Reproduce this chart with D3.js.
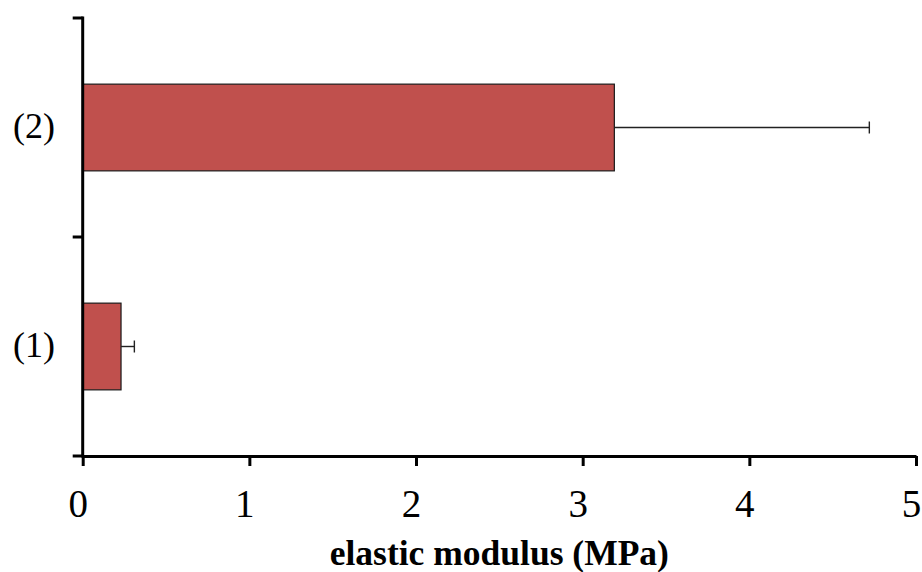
<!DOCTYPE html>
<html>
<head>
<meta charset="utf-8">
<script src="https://cdn.jsdelivr.net/npm/d3@7"></script>
<style>
  html, body { margin: 0; padding: 0; background: #fff; }
  svg { display: block; }
  text { font-family: "Liberation Serif", "Times New Roman", serif; fill: #000; }
</style>
</head>
<body>
<svg id="chart" width="922" height="572"></svg>
<script>
// Samples, mean elastic modulus (MPa) and standard deviation
const categories = ["(2)", "(1)"];
const modulus = [3.19, 0.23];
const modulusSD = [1.53, 0.08];
const xTicks = [0, 1, 2, 3, 4, 5];
const xTitle = "elastic modulus (MPa)";

const W = 922, H = 572;
const plot = { left: 82.7, right: 916, top: 18, bottom: 456 };

const svg = d3.select("#chart");

const x = d3.scaleLinear().domain([0, 5]).range([plot.left, plot.right]);
const y = d3.scaleBand()
  .domain(categories)
  .range([plot.top, plot.bottom])
  .paddingInner(0.604)
  .paddingOuter(0.302);

const rows = categories.map((c, i) => ({ cat: c, v: modulus[i], sd: modulusSD[i] }));

// Bars
svg.append("g").selectAll("rect")
  .data(rows)
  .join("rect")
  .attr("x", x(0))
  .attr("y", d => y(d.cat))
  .attr("width", d => x(d.v) - x(0))
  .attr("height", y.bandwidth())
  .attr("fill", "#C0504D")
  .attr("stroke", "#1a1a1a")
  .attr("stroke-width", 1.2);

// Error bars (positive direction only)
const eb = svg.append("g").attr("stroke", "#222").attr("stroke-width", 1.4);
eb.selectAll("line.whisker")
  .data(rows)
  .join("line")
  .attr("class", "whisker")
  .attr("x1", d => x(d.v))
  .attr("x2", d => x(d.v + d.sd))
  .attr("y1", d => y(d.cat) + y.bandwidth() / 2)
  .attr("y2", d => y(d.cat) + y.bandwidth() / 2);
eb.selectAll("line.cap")
  .data(rows)
  .join("line")
  .attr("class", "cap")
  .attr("x1", d => x(d.v + d.sd))
  .attr("x2", d => x(d.v + d.sd))
  .attr("y1", d => y(d.cat) + y.bandwidth() / 2 - 6)
  .attr("y2", d => y(d.cat) + y.bandwidth() / 2 + 6);

// X axis
const xAxis = svg.append("g")
  .attr("transform", `translate(0,${plot.bottom})`)
  .call(d3.axisBottom(x).tickValues(xTicks).tickFormat(d3.format("d")).tickSize(10).tickSizeOuter(0));
xAxis.select(".domain").attr("stroke", "#000").attr("stroke-width", 3);
xAxis.selectAll(".tick line").attr("stroke", "#000").attr("stroke-width", 3);
xAxis.selectAll(".tick text")
  .attr("x", -5)
  .attr("y", 61)
  .attr("dy", 0)
  .style("font-family", "'Liberation Serif', 'Times New Roman', serif")
  .style("font-size", "39px");

// Y axis: line with ticks at category boundaries
const yAxis = svg.append("g");
yAxis.append("line")
  .attr("x1", plot.left).attr("x2", plot.left)
  .attr("y1", plot.top - 1.5).attr("y2", plot.bottom + 1.5)
  .attr("stroke", "#000").attr("stroke-width", 3);
const bounds = d3.range(categories.length + 1).map(i => plot.top + i * y.step());
yAxis.selectAll("line.ytick")
  .data(bounds)
  .join("line")
  .attr("class", "ytick")
  .attr("x1", plot.left - 10).attr("x2", plot.left)
  .attr("y1", d => d).attr("y2", d => d)
  .attr("stroke", "#000").attr("stroke-width", 3);
yAxis.selectAll("text")
  .data(categories)
  .join("text")
  .attr("x", 55)
  .attr("y", d => y(d) + y.bandwidth() / 2)
  .attr("dy", "0.3em")
  .attr("text-anchor", "end")
  .style("font-size", "36px")
  .text(d => d);

// Axis title
svg.append("text")
  .attr("x", (plot.left + plot.right) / 2)
  .attr("y", 565)
  .attr("text-anchor", "middle")
  .style("font-size", "35.5px")
  .style("font-weight", "bold")
  .text(xTitle);
</script>
</body>
</html>
